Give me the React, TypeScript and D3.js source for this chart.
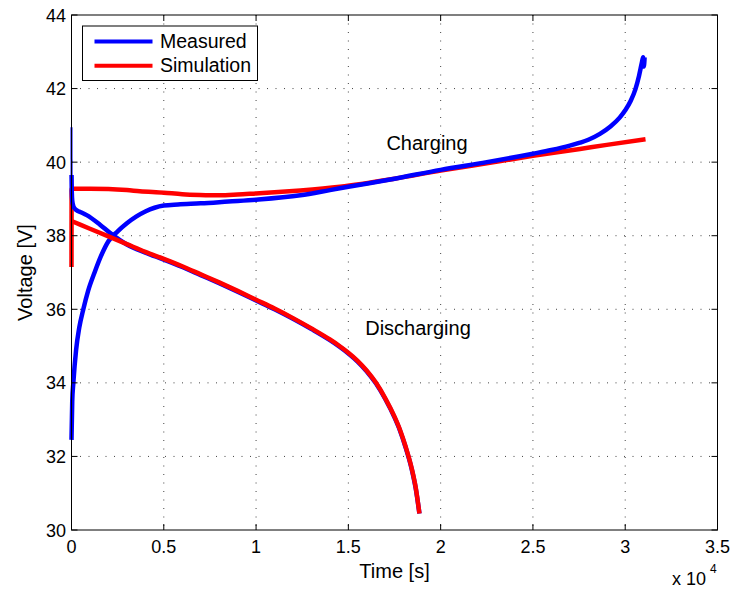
import React from "react";
import * as d3 from "d3";

const xTicks = [0, 5000, 10000, 15000, 20000, 25000, 30000, 35000];
const xTickLabels = ["0", "0.5", "1", "1.5", "2", "2.5", "3", "3.5"];
const yTicks = [30, 32, 34, 36, 38, 40, 42, 44];

// [time s, voltage V]
const measuredCharge: [number, number][] = [
  [0, 32.45], [40, 33.5], [100, 34.0], [250, 34.9], [420, 35.5], [640, 36.0],
  [900, 36.5], [1250, 37.0], [1600, 37.45], [2000, 37.85], [2500, 38.12],
  [3000, 38.34], [3500, 38.52], [4000, 38.66], [4500, 38.76], [5000, 38.82],
  [5770, 38.85], [7000, 38.88], [8500, 38.93], [10000, 38.98], [12400, 39.1],
  [14000, 39.24], [15000, 39.33], [17500, 39.55], [20000, 39.79], [22500, 40.0],
  [25000, 40.23], [26000, 40.33], [27000, 40.45], [27550, 40.53], [28000, 40.61],
  [28630, 40.77], [29200, 40.97], [29700, 41.21], [30000, 41.41], [30300, 41.67],
  [30550, 41.98], [30750, 42.35], [30900, 42.7], [30970, 42.85], [31010, 42.6],
  [31050, 42.85],
];

const simCharge: [number, number][] = [
  [0, 37.15], [8, 39.28], [1000, 39.28], [2000, 39.27], [3000, 39.24], [3700, 39.21],
  [5000, 39.17], [6000, 39.13], [6960, 39.11], [8000, 39.1], [9000, 39.12],
  [10000, 39.15], [11000, 39.18], [12400, 39.23], [14550, 39.33], [17500, 39.55],
  [20000, 39.77], [22500, 39.97], [25000, 40.17], [27550, 40.36], [29000, 40.47],
  [31100, 40.62],
];

const measuredDischarge: [number, number][] = [
  [0, 40.95], [3, 39.65], [15, 39.2], [40, 38.95], [100, 38.8], [250, 38.7],
  [500, 38.64], [824, 38.56], [1544, 38.3], [2100, 38.07], [3000, 37.76],
  [4000, 37.54], [5000, 37.35], [6000, 37.15], [7000, 36.93], [8000, 36.71],
  [9000, 36.48], [10000, 36.24], [11000, 36.0], [12000, 35.74], [13000, 35.46],
  [14000, 35.16], [14500, 34.99], [15000, 34.8], [15500, 34.58], [16000, 34.31],
  [16500, 33.98], [17000, 33.56], [17500, 33.06], [17800, 32.7], [18100, 32.25],
  [18430, 31.66], [18650, 31.13], [18850, 30.45],
];

const simDischarge: [number, number][] = [
  [0, 38.4], [1000, 38.19], [2000, 37.98], [3000, 37.77], [4000, 37.56],
  [5000, 37.37], [6000, 37.17], [7000, 36.95], [8000, 36.73], [9000, 36.5],
  [10000, 36.26], [11000, 36.02], [12000, 35.76], [13000, 35.48], [14000, 35.18],
  [14500, 35.01], [15000, 34.82], [15500, 34.6], [16000, 34.33], [16500, 34.0],
  [17000, 33.58], [17500, 33.08], [17800, 32.72], [18100, 32.27], [18430, 31.68],
  [18650, 31.15], [18850, 30.45],
];

const legendItems = [
  { label: "Measured", color: "#0000ff" },
  { label: "Simulation", color: "#ff0000" },
];

const W = 734;
const H = 594;
const M = { left: 71.5, right: 717.5, top: 15, bottom: 530 };
const FONT = "'Liberation Sans', Arial, Helvetica, sans-serif";

export default function App() {
  const x = d3.scaleLinear().domain([0, 35000]).range([M.left, M.right]);
  const y = d3.scaleLinear().domain([30, 44]).range([M.bottom, M.top]);
  const line = d3
    .line<[number, number]>()
    .x((d) => x(d[0]))
    .y((d) => y(d[1]))
    .curve(d3.curveMonotoneX);

  const blue = "#0000ff";
  const red = "#ff0000";
  const lw = 4.5;
  const tickLen = 6;

  return (
    <svg
      width={W}
      height={H}
      style={{ position: "absolute", left: 0, top: 0, background: "#fff" }}
      fontFamily={FONT}
    >
      <rect x={0} y={0} width={W} height={H} fill="#fff" />
      {/* grid */}
      <g stroke="#444" strokeWidth={1} strokeDasharray="1,7.5">
        {xTicks.slice(1, -1).map((t) => (
          <line key={"gx" + t} x1={x(t)} x2={x(t)} y1={M.top} y2={M.bottom} />
        ))}
        {yTicks.slice(1, -1).map((t) => (
          <line key={"gy" + t} x1={M.left} x2={M.right} y1={y(t)} y2={y(t)} />
        ))}
      </g>
      {/* data */}
      <g fill="none" strokeLinejoin="round" strokeLinecap="butt">
        <path d={line(simCharge) || ""} stroke={red} strokeWidth={lw} />
        <path d={line(measuredCharge) || ""} stroke={blue} strokeWidth={lw} />
        <path d={line(measuredDischarge.slice(0, 2)) || ""} stroke={blue} strokeWidth={2} />
        <path d={line(measuredDischarge.slice(1)) || ""} stroke={blue} strokeWidth={lw} />
        <path d={line(simDischarge) || ""} stroke={red} strokeWidth={lw} />
      </g>
      {/* axes box and ticks */}
      <rect
        x={M.left}
        y={M.top}
        width={M.right - M.left}
        height={M.bottom - M.top}
        fill="none"
        stroke="#000"
        strokeWidth={1}
      />
      <g stroke="#000" strokeWidth={1}>
        {xTicks.map((t) => (
          <g key={"tx" + t}>
            <line x1={x(t)} x2={x(t)} y1={M.bottom} y2={M.bottom - tickLen} />
            <line x1={x(t)} x2={x(t)} y1={M.top} y2={M.top + tickLen} />
          </g>
        ))}
        {yTicks.map((t) => (
          <g key={"ty" + t}>
            <line x1={M.left} x2={M.left + tickLen} y1={y(t)} y2={y(t)} />
            <line x1={M.right} x2={M.right - tickLen} y1={y(t)} y2={y(t)} />
          </g>
        ))}
      </g>
      {/* tick labels */}
      <g fontSize={18} fill="#000">
        {xTicks.map((t, i) => (
          <text key={"lx" + t} x={x(t)} y={553} textAnchor="middle">
            {xTickLabels[i]}
          </text>
        ))}
        {yTicks.map((t) => (
          <text key={"ly" + t} x={66} y={y(t) + 6.5} textAnchor="end">
            {t}
          </text>
        ))}
      </g>
      {/* exponent */}
      <text x={672} y={585} fontSize={18} fill="#000">
        x 10
      </text>
      <text x={710} y={573} fontSize={12} fill="#000">
        4
      </text>
      {/* axis labels */}
      <text x={(M.left + M.right) / 2} y={578} fontSize={20} textAnchor="middle" fill="#000">
        Time [s]
      </text>
      <text
        transform={`translate(32, ${(M.top + M.bottom) / 2}) rotate(-90)`}
        fontSize={20}
        textAnchor="middle"
        fill="#000"
      >
        Voltage [V]
      </text>
      {/* annotations */}
      <text x={427} y={150} fontSize={20} textAnchor="middle" fill="#000">
        Charging
      </text>
      <text x={418} y={335} fontSize={20} textAnchor="middle" fill="#000">
        Discharging
      </text>
      {/* legend */}
      <rect x={82.5} y={26} width={175} height={54.5} fill="#fff" stroke="#000" strokeWidth={1} />
      {legendItems.map((it, i) => (
        <g key={it.label}>
          <line
            x1={94.5}
            x2={152.5}
            y1={41.5 + i * 24.3}
            y2={41.5 + i * 24.3}
            stroke={it.color}
            strokeWidth={4}
          />
          <text x={160} y={48 + i * 24.3} fontSize={19.5} fill="#000">
            {it.label}
          </text>
        </g>
      ))}
    </svg>
  );
}
